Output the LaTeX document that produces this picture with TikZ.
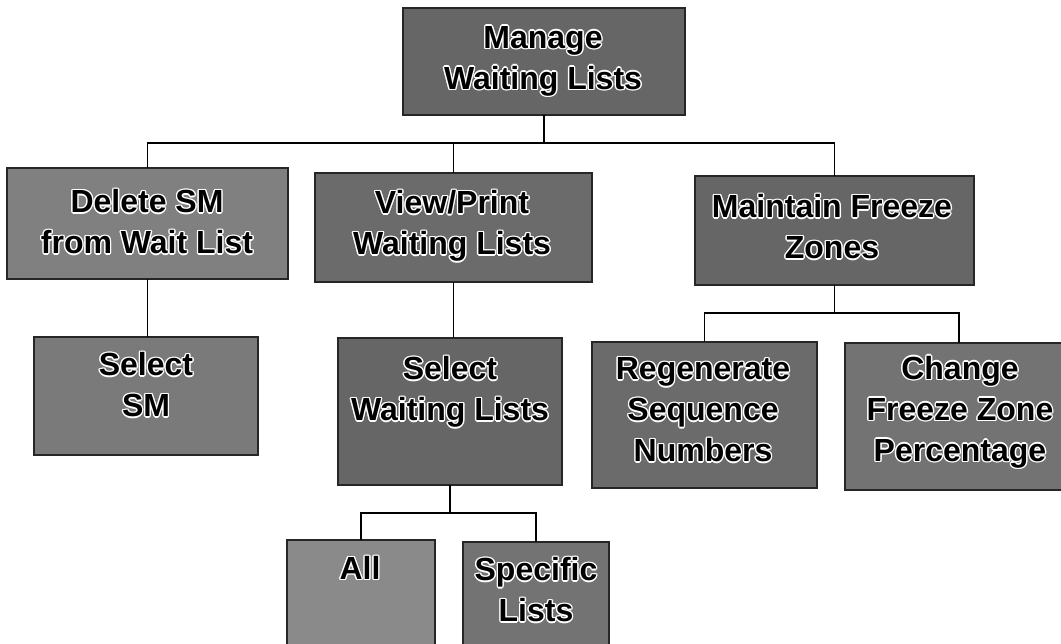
\documentclass[tikz,border=0pt]{standalone}
\usepackage{fontspec}
\newfontfamily\boxfont{Liberation Sans}
\tikzset{
  box/.style={draw=black!85, line width=1.2pt, inner sep=0pt, outer sep=0pt, anchor=north west},
  lbl/.style={font=\boxfont\bfseries\fontsize{32}{41}\selectfont, align=center, inner sep=0pt, text=black},
  conn/.style={draw=black, line width=1.4pt},
}
\newcommand\btext[4]{%
  \foreach \dx/\dy [count=\k] in {-1.4/0,1.4/0,0/-1.4,0/1.4,-1/-1,1/1,-1/1,1/-1}{%
    \node[lbl,text=white,xshift=\dx pt,yshift=\dy pt] (#1h\k) at (#2,#3) {#4};}%
  \node[lbl] (#1) at (#2,#3) {#4};}
\begin{document}
\begin{tikzpicture}[x=1pt,y=-1pt]
\useasboundingbox (0,0) rectangle (1061,644);
\clip (0,0) rectangle (1061,644);
\fill[white] (0,0) rectangle (1061,644);
% boxes
\node[box, fill=black!60, minimum width=282, minimum height=107] (manage) at (403,8) {};
\node[box, fill=black!50, minimum width=281, minimum height=111] (delete) at (7,168) {};
\node[box, fill=black!58, minimum width=277, minimum height=109] (view) at (315,173) {};
\node[box, fill=black!60, minimum width=279, minimum height=109] (maintain) at (695,176) {};
\node[box, fill=black!52, minimum width=224, minimum height=118] (selsm) at (34,337) {};
\node[box, fill=black!60, minimum width=224, minimum height=147] (selwl) at (338,338) {};
\node[box, fill=black!46, minimum width=148, minimum height=115] (all) at (287,540) {};
\node[box, fill=black!55, minimum width=146, minimum height=113] (spec) at (463,542) {};
\node[box, fill=black!58, minimum width=225, minimum height=146] (regen) at (592,342) {};
\node[box, fill=black!55, minimum width=228, minimum height=147] (change) at (845,343) {};
% texts
\btext{tmanage}{543}{61}{Manage\\Waiting Lists}
\btext{tdelete}{147}{222}{Delete SM\\from Wait List}
\btext{tview}{452}{226}{View/Print\\Waiting Lists}
\btext{tmaintain}{832}{227}{Maintain Freeze\\Zones}
\btext{tselsm}{146}{385}{Select\\SM}
\btext{tselwl}{450}{392}{Select\\Waiting Lists}
\btext{tall}{360}{568}{All}
\btext{tspec}{536}{590}{Specific\\Lists}
\btext{tregen}{703}{410}{Regenerate\\Sequence\\Numbers}
\btext{tchange}{960}{412}{Change\\Freeze Zone\\Percentage}
% connectors
\coordinate (b1y) at (0,143);
\coordinate (b1) at (manage.south |- b1y);
\draw[conn] (manage.south) -- (b1);
\draw[conn] (delete.north) |- (b1) -| (maintain.north);
\draw[conn] (view.north) -- (view.north |- b1);
\draw[conn] (delete.south) -- (delete.south |- selsm.north);
\draw[conn] (view.south) -- (view.south |- selwl.north);
\coordinate (b2y) at (0,513);
\coordinate (b2) at (selwl.south |- b2y);
\draw[conn] (selwl.south) -- (b2);
\draw[conn] (all.north) |- (b2) -| (spec.north);
\coordinate (b3y) at (0,313);
\coordinate (b3) at (maintain.south |- b3y);
\draw[conn] (maintain.south) -- (b3);
\draw[conn] (regen.north) |- (b3) -| (change.north);
\end{tikzpicture}
\end{document}
